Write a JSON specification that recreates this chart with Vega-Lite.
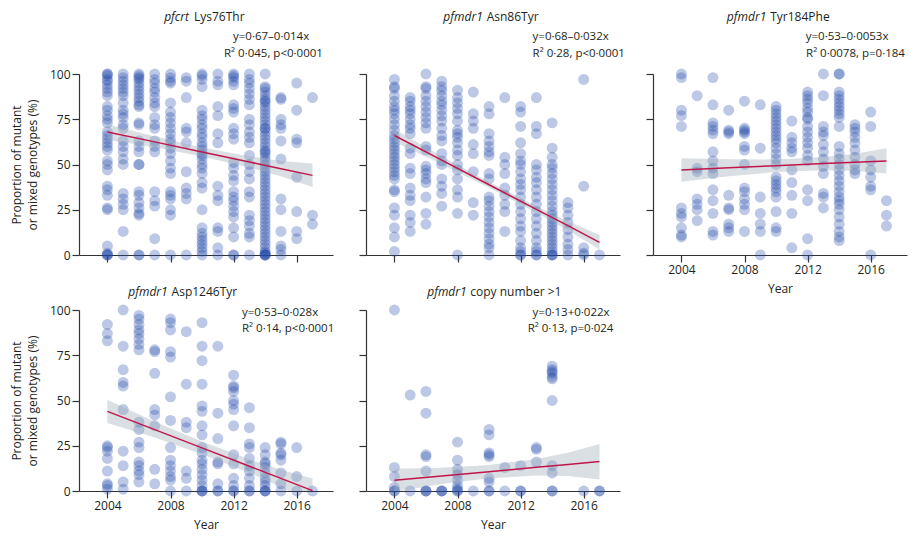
{
"$schema": "https://vega.github.io/schema/vega-lite/v6.json",
"padding": {"left": 10, "top": 10, "right": 5, "bottom": 5},
"background": "white",
"config": {
  "font": "Open Sans",
  "view": {"stroke": null},
  "axis": {"grid": false, "domainColor": "#333", "tickColor": "#333", "labelColor": "#231f20", "titleColor": "#231f20", "labelFont": "Open Sans", "titleFont": "Open Sans", "labelFontSize": 12, "titleFontSize": 12, "titleFontWeight": "normal", "tickSize": 7, "domainWidth": 1.2, "tickWidth": 1.2, "labelPadding": 2, "titleLineHeight": 16},
  "axisX": {"titlePadding": 8},
  "text": {"font": "Open Sans", "fontSize": 11.5, "color": "#231f20"}
},
"datasets": {
"fit": [
{"p":1,"x":2004,"f":68,"lo":63.7,"hi":72.2},{"p":1,"x":2007,"f":62.5,"lo":59.5,"hi":65.5},{"p":1,"x":2010,"f":56.9,"lo":54.4,"hi":59.4},{"p":1,"x":2013,"f":51.4,"lo":48.3,"hi":54.5},{"p":1,"x":2015,"f":47.7,"lo":43.5,"hi":51.9},{"p":1,"x":2017,"f":44,"lo":37.6,"hi":50.6},
{"p":2,"x":2004,"f":66,"lo":62.5,"hi":69.5},{"p":2,"x":2007,"f":52.4,"lo":50.2,"hi":54.6},{"p":2,"x":2010,"f":38.8,"lo":37.2,"hi":40.4},{"p":2,"x":2013,"f":25.2,"lo":23.4,"hi":27},{"p":2,"x":2015,"f":16.2,"lo":13.7,"hi":18.7},{"p":2,"x":2017,"f":7,"lo":3,"hi":11},
{"p":3,"x":2004,"f":47,"lo":40.5,"hi":53.5},{"p":3,"x":2007,"f":48.2,"lo":43.5,"hi":52.9},{"p":3,"x":2010,"f":49.3,"lo":45.8,"hi":52.8},{"p":3,"x":2013,"f":50.5,"lo":46.8,"hi":54.2},{"p":3,"x":2015,"f":51.2,"lo":46.5,"hi":55.9},{"p":3,"x":2017,"f":52,"lo":45,"hi":59},
{"p":4,"x":2004,"f":44,"lo":37.6,"hi":50.4},{"p":4,"x":2007,"f":33.9,"lo":29.5,"hi":38.3},{"p":4,"x":2010,"f":23.8,"lo":20.3,"hi":27.3},{"p":4,"x":2013,"f":13.7,"lo":9.9,"hi":17.5},{"p":4,"x":2015,"f":7,"lo":2.2,"hi":11.8},{"p":4,"x":2017,"f":0.2,"lo":-6.5,"hi":6.9},
{"p":5,"x":2004,"f":5.9,"lo":-0.5,"hi":12.3},{"p":5,"x":2007,"f":8.3,"lo":3.8,"hi":12.8},{"p":5,"x":2010,"f":10.7,"lo":7,"hi":14.4},{"p":5,"x":2013,"f":13.1,"lo":8.5,"hi":17.7},{"p":5,"x":2015,"f":14.7,"lo":8.3,"hi":21.1},{"p":5,"x":2017,"f":16.3,"lo":6.3,"hi":26}
],
"pts": [
{"p":1,"x":2004,"y":100},{"p":1,"x":2004,"y":100},{"p":1,"x":2004,"y":99},{"p":1,"x":2004,"y":97},{"p":1,"x":2004,"y":96},{"p":1,"x":2004,"y":94},{"p":1,"x":2004,"y":92},{"p":1,"x":2004,"y":90},{"p":1,"x":2004,"y":88},{"p":1,"x":2004,"y":82},{"p":1,"x":2004,"y":80},{"p":1,"x":2004,"y":77},{"p":1,"x":2004,"y":75},{"p":1,"x":2004,"y":73},{"p":1,"x":2004,"y":68},{"p":1,"x":2004,"y":66},{"p":1,"x":2004,"y":64},{"p":1,"x":2004,"y":62},{"p":1,"x":2004,"y":60},{"p":1,"x":2004,"y":58},{"p":1,"x":2004,"y":52},{"p":1,"x":2004,"y":50},{"p":1,"x":2004,"y":47},{"p":1,"x":2004,"y":38},{"p":1,"x":2004,"y":36},{"p":1,"x":2004,"y":33},{"p":1,"x":2004,"y":26},{"p":1,"x":2004,"y":25},{"p":1,"x":2004,"y":5},{"p":1,"x":2004,"y":1},{"p":1,"x":2004,"y":0},{"p":1,"x":2004,"y":0},{"p":1,"x":2004,"y":0},
{"p":1,"x":2005,"y":100},{"p":1,"x":2005,"y":98},{"p":1,"x":2005,"y":96},{"p":1,"x":2005,"y":94},{"p":1,"x":2005,"y":92},{"p":1,"x":2005,"y":90},{"p":1,"x":2005,"y":88},{"p":1,"x":2005,"y":84},{"p":1,"x":2005,"y":80},{"p":1,"x":2005,"y":78},{"p":1,"x":2005,"y":76},{"p":1,"x":2005,"y":72},{"p":1,"x":2005,"y":70},{"p":1,"x":2005,"y":63},{"p":1,"x":2005,"y":60},{"p":1,"x":2005,"y":57},{"p":1,"x":2005,"y":53},{"p":1,"x":2005,"y":50},{"p":1,"x":2005,"y":34},{"p":1,"x":2005,"y":31},{"p":1,"x":2005,"y":28},{"p":1,"x":2005,"y":25},{"p":1,"x":2005,"y":13},{"p":1,"x":2005,"y":0},
{"p":1,"x":2006,"y":100},{"p":1,"x":2006,"y":99},{"p":1,"x":2006,"y":98},{"p":1,"x":2006,"y":97},{"p":1,"x":2006,"y":95},{"p":1,"x":2006,"y":93},{"p":1,"x":2006,"y":91},{"p":1,"x":2006,"y":89},{"p":1,"x":2006,"y":87},{"p":1,"x":2006,"y":85},{"p":1,"x":2006,"y":83},{"p":1,"x":2006,"y":82},{"p":1,"x":2006,"y":73},{"p":1,"x":2006,"y":72},{"p":1,"x":2006,"y":63},{"p":1,"x":2006,"y":60},{"p":1,"x":2006,"y":57},{"p":1,"x":2006,"y":50},{"p":1,"x":2006,"y":50},{"p":1,"x":2006,"y":35},{"p":1,"x":2006,"y":33},{"p":1,"x":2006,"y":29},{"p":1,"x":2006,"y":26},{"p":1,"x":2006,"y":23},{"p":1,"x":2006,"y":22},{"p":1,"x":2006,"y":0},{"p":1,"x":2006,"y":0},
{"p":1,"x":2007,"y":100},{"p":1,"x":2007,"y":97},{"p":1,"x":2007,"y":95},{"p":1,"x":2007,"y":92},{"p":1,"x":2007,"y":90},{"p":1,"x":2007,"y":87},{"p":1,"x":2007,"y":84},{"p":1,"x":2007,"y":82},{"p":1,"x":2007,"y":76},{"p":1,"x":2007,"y":72},{"p":1,"x":2007,"y":70},{"p":1,"x":2007,"y":63},{"p":1,"x":2007,"y":60},{"p":1,"x":2007,"y":57},{"p":1,"x":2007,"y":35},{"p":1,"x":2007,"y":30},{"p":1,"x":2007,"y":27},{"p":1,"x":2007,"y":9},{"p":1,"x":2007,"y":0},
{"p":1,"x":2008,"y":100},{"p":1,"x":2008,"y":98},{"p":1,"x":2008,"y":96},{"p":1,"x":2008,"y":95},{"p":1,"x":2008,"y":84},{"p":1,"x":2008,"y":79},{"p":1,"x":2008,"y":76},{"p":1,"x":2008,"y":73},{"p":1,"x":2008,"y":70},{"p":1,"x":2008,"y":67},{"p":1,"x":2008,"y":64},{"p":1,"x":2008,"y":62},{"p":1,"x":2008,"y":59},{"p":1,"x":2008,"y":56},{"p":1,"x":2008,"y":52},{"p":1,"x":2008,"y":48},{"p":1,"x":2008,"y":45},{"p":1,"x":2008,"y":35},{"p":1,"x":2008,"y":33},{"p":1,"x":2008,"y":31},{"p":1,"x":2008,"y":25},{"p":1,"x":2008,"y":22},{"p":1,"x":2008,"y":0},
{"p":1,"x":2009,"y":98},{"p":1,"x":2009,"y":96},{"p":1,"x":2009,"y":87},{"p":1,"x":2009,"y":70},{"p":1,"x":2009,"y":68},{"p":1,"x":2009,"y":62},{"p":1,"x":2009,"y":46},{"p":1,"x":2009,"y":37},{"p":1,"x":2009,"y":34},{"p":1,"x":2009,"y":31},{"p":1,"x":2009,"y":0},
{"p":1,"x":2010,"y":100},{"p":1,"x":2010,"y":99},{"p":1,"x":2010,"y":97},{"p":1,"x":2010,"y":93},{"p":1,"x":2010,"y":80},{"p":1,"x":2010,"y":77},{"p":1,"x":2010,"y":75},{"p":1,"x":2010,"y":72},{"p":1,"x":2010,"y":70},{"p":1,"x":2010,"y":67},{"p":1,"x":2010,"y":65},{"p":1,"x":2010,"y":62},{"p":1,"x":2010,"y":60},{"p":1,"x":2010,"y":58},{"p":1,"x":2010,"y":56},{"p":1,"x":2010,"y":55},{"p":1,"x":2010,"y":53},{"p":1,"x":2010,"y":50},{"p":1,"x":2010,"y":48},{"p":1,"x":2010,"y":45},{"p":1,"x":2010,"y":40},{"p":1,"x":2010,"y":37},{"p":1,"x":2010,"y":25},{"p":1,"x":2010,"y":15},{"p":1,"x":2010,"y":12},{"p":1,"x":2010,"y":10},{"p":1,"x":2010,"y":8},{"p":1,"x":2010,"y":6},{"p":1,"x":2010,"y":4},{"p":1,"x":2010,"y":2},{"p":1,"x":2010,"y":0},
{"p":1,"x":2011,"y":100},{"p":1,"x":2011,"y":96},{"p":1,"x":2011,"y":94},{"p":1,"x":2011,"y":82},{"p":1,"x":2011,"y":77},{"p":1,"x":2011,"y":67},{"p":1,"x":2011,"y":62},{"p":1,"x":2011,"y":38},{"p":1,"x":2011,"y":33},{"p":1,"x":2011,"y":30},{"p":1,"x":2011,"y":15},{"p":1,"x":2011,"y":13},{"p":1,"x":2011,"y":4},{"p":1,"x":2011,"y":0},
{"p":1,"x":2012,"y":100},{"p":1,"x":2012,"y":99},{"p":1,"x":2012,"y":98},{"p":1,"x":2012,"y":96},{"p":1,"x":2012,"y":94},{"p":1,"x":2012,"y":83},{"p":1,"x":2012,"y":81},{"p":1,"x":2012,"y":79},{"p":1,"x":2012,"y":70},{"p":1,"x":2012,"y":67},{"p":1,"x":2012,"y":64},{"p":1,"x":2012,"y":51},{"p":1,"x":2012,"y":48},{"p":1,"x":2012,"y":44},{"p":1,"x":2012,"y":41},{"p":1,"x":2012,"y":35},{"p":1,"x":2012,"y":32},{"p":1,"x":2012,"y":30},{"p":1,"x":2012,"y":27},{"p":1,"x":2012,"y":24},{"p":1,"x":2012,"y":21},{"p":1,"x":2012,"y":15},{"p":1,"x":2012,"y":10},{"p":1,"x":2012,"y":0},{"p":1,"x":2012,"y":0},
{"p":1,"x":2013,"y":100},{"p":1,"x":2013,"y":97},{"p":1,"x":2013,"y":95},{"p":1,"x":2013,"y":92},{"p":1,"x":2013,"y":89},{"p":1,"x":2013,"y":86},{"p":1,"x":2013,"y":83},{"p":1,"x":2013,"y":75},{"p":1,"x":2013,"y":72},{"p":1,"x":2013,"y":68},{"p":1,"x":2013,"y":65},{"p":1,"x":2013,"y":62},{"p":1,"x":2013,"y":55},{"p":1,"x":2013,"y":50},{"p":1,"x":2013,"y":46},{"p":1,"x":2013,"y":42},{"p":1,"x":2013,"y":35},{"p":1,"x":2013,"y":32},{"p":1,"x":2013,"y":22},{"p":1,"x":2013,"y":19},{"p":1,"x":2013,"y":16},{"p":1,"x":2013,"y":12},{"p":1,"x":2013,"y":10},{"p":1,"x":2013,"y":0},
{"p":1,"x":2014,"y":100},{"p":1,"x":2014,"y":93},{"p":1,"x":2014,"y":92},{"p":1,"x":2014,"y":90},{"p":1,"x":2014,"y":88},{"p":1,"x":2014,"y":86},{"p":1,"x":2014,"y":85},{"p":1,"x":2014,"y":84},{"p":1,"x":2014,"y":82},{"p":1,"x":2014,"y":80},{"p":1,"x":2014,"y":78},{"p":1,"x":2014,"y":76},{"p":1,"x":2014,"y":74},{"p":1,"x":2014,"y":72},{"p":1,"x":2014,"y":70},{"p":1,"x":2014,"y":70},{"p":1,"x":2014,"y":68},{"p":1,"x":2014,"y":66},{"p":1,"x":2014,"y":64},{"p":1,"x":2014,"y":62},{"p":1,"x":2014,"y":60},{"p":1,"x":2014,"y":58},{"p":1,"x":2014,"y":57},{"p":1,"x":2014,"y":56},{"p":1,"x":2014,"y":54},{"p":1,"x":2014,"y":52},{"p":1,"x":2014,"y":50},{"p":1,"x":2014,"y":48},{"p":1,"x":2014,"y":46},{"p":1,"x":2014,"y":44},{"p":1,"x":2014,"y":42},{"p":1,"x":2014,"y":40},{"p":1,"x":2014,"y":38},{"p":1,"x":2014,"y":36},{"p":1,"x":2014,"y":34},{"p":1,"x":2014,"y":32},{"p":1,"x":2014,"y":30},{"p":1,"x":2014,"y":28},{"p":1,"x":2014,"y":26},{"p":1,"x":2014,"y":24},{"p":1,"x":2014,"y":22},{"p":1,"x":2014,"y":20},{"p":1,"x":2014,"y":18},{"p":1,"x":2014,"y":16},{"p":1,"x":2014,"y":14},{"p":1,"x":2014,"y":12},{"p":1,"x":2014,"y":10},{"p":1,"x":2014,"y":8},{"p":1,"x":2014,"y":6},{"p":1,"x":2014,"y":4},{"p":1,"x":2014,"y":2},{"p":1,"x":2014,"y":1},{"p":1,"x":2014,"y":0},{"p":1,"x":2014,"y":0},{"p":1,"x":2014,"y":0},{"p":1,"x":2014,"y":0},
{"p":1,"x":2015,"y":87},{"p":1,"x":2015,"y":86},{"p":1,"x":2015,"y":75},{"p":1,"x":2015,"y":72},{"p":1,"x":2015,"y":70},{"p":1,"x":2015,"y":63},{"p":1,"x":2015,"y":53},{"p":1,"x":2015,"y":31},{"p":1,"x":2015,"y":25},{"p":1,"x":2015,"y":13},{"p":1,"x":2015,"y":5},{"p":1,"x":2015,"y":3},{"p":1,"x":2015,"y":0},
{"p":1,"x":2016,"y":95},{"p":1,"x":2016,"y":80},{"p":1,"x":2016,"y":64},{"p":1,"x":2016,"y":62},{"p":1,"x":2016,"y":43},{"p":1,"x":2016,"y":24},{"p":1,"x":2016,"y":13},{"p":1,"x":2016,"y":9},
{"p":1,"x":2017,"y":87},{"p":1,"x":2017,"y":22},{"p":1,"x":2017,"y":17},
{"p":2,"x":2004,"y":97},{"p":2,"x":2004,"y":93},{"p":2,"x":2004,"y":92},{"p":2,"x":2004,"y":88},{"p":2,"x":2004,"y":85},{"p":2,"x":2004,"y":82},{"p":2,"x":2004,"y":80},{"p":2,"x":2004,"y":78},{"p":2,"x":2004,"y":75},{"p":2,"x":2004,"y":72},{"p":2,"x":2004,"y":69},{"p":2,"x":2004,"y":66},{"p":2,"x":2004,"y":64},{"p":2,"x":2004,"y":62},{"p":2,"x":2004,"y":60},{"p":2,"x":2004,"y":58},{"p":2,"x":2004,"y":56},{"p":2,"x":2004,"y":54},{"p":2,"x":2004,"y":52},{"p":2,"x":2004,"y":50},{"p":2,"x":2004,"y":48},{"p":2,"x":2004,"y":46},{"p":2,"x":2004,"y":44},{"p":2,"x":2004,"y":42},{"p":2,"x":2004,"y":36},{"p":2,"x":2004,"y":35},{"p":2,"x":2004,"y":26},{"p":2,"x":2004,"y":22},{"p":2,"x":2004,"y":15},{"p":2,"x":2004,"y":10},{"p":2,"x":2004,"y":2},
{"p":2,"x":2005,"y":87},{"p":2,"x":2005,"y":85},{"p":2,"x":2005,"y":82},{"p":2,"x":2005,"y":80},{"p":2,"x":2005,"y":78},{"p":2,"x":2005,"y":75},{"p":2,"x":2005,"y":72},{"p":2,"x":2005,"y":70},{"p":2,"x":2005,"y":67},{"p":2,"x":2005,"y":59},{"p":2,"x":2005,"y":56},{"p":2,"x":2005,"y":48},{"p":2,"x":2005,"y":45},{"p":2,"x":2005,"y":37},{"p":2,"x":2005,"y":33},{"p":2,"x":2005,"y":30},{"p":2,"x":2005,"y":22},{"p":2,"x":2005,"y":18},{"p":2,"x":2005,"y":13},
{"p":2,"x":2006,"y":100},{"p":2,"x":2006,"y":93},{"p":2,"x":2006,"y":92},{"p":2,"x":2006,"y":88},{"p":2,"x":2006,"y":85},{"p":2,"x":2006,"y":82},{"p":2,"x":2006,"y":79},{"p":2,"x":2006,"y":76},{"p":2,"x":2006,"y":73},{"p":2,"x":2006,"y":70},{"p":2,"x":2006,"y":60},{"p":2,"x":2006,"y":58},{"p":2,"x":2006,"y":49},{"p":2,"x":2006,"y":47},{"p":2,"x":2006,"y":45},{"p":2,"x":2006,"y":42},{"p":2,"x":2006,"y":40},{"p":2,"x":2006,"y":32},{"p":2,"x":2006,"y":23},{"p":2,"x":2006,"y":17},
{"p":2,"x":2007,"y":96},{"p":2,"x":2007,"y":93},{"p":2,"x":2007,"y":91},{"p":2,"x":2007,"y":88},{"p":2,"x":2007,"y":85},{"p":2,"x":2007,"y":83},{"p":2,"x":2007,"y":80},{"p":2,"x":2007,"y":77},{"p":2,"x":2007,"y":74},{"p":2,"x":2007,"y":70},{"p":2,"x":2007,"y":66},{"p":2,"x":2007,"y":63},{"p":2,"x":2007,"y":56},{"p":2,"x":2007,"y":52},{"p":2,"x":2007,"y":50},{"p":2,"x":2007,"y":42},{"p":2,"x":2007,"y":38},{"p":2,"x":2007,"y":34},{"p":2,"x":2007,"y":27},
{"p":2,"x":2008,"y":91},{"p":2,"x":2008,"y":87},{"p":2,"x":2008,"y":84},{"p":2,"x":2008,"y":81},{"p":2,"x":2008,"y":78},{"p":2,"x":2008,"y":74},{"p":2,"x":2008,"y":69},{"p":2,"x":2008,"y":67},{"p":2,"x":2008,"y":65},{"p":2,"x":2008,"y":62},{"p":2,"x":2008,"y":58},{"p":2,"x":2008,"y":55},{"p":2,"x":2008,"y":50},{"p":2,"x":2008,"y":47},{"p":2,"x":2008,"y":42},{"p":2,"x":2008,"y":36},{"p":2,"x":2008,"y":32},{"p":2,"x":2008,"y":23},{"p":2,"x":2008,"y":0},
{"p":2,"x":2009,"y":90},{"p":2,"x":2009,"y":78},{"p":2,"x":2009,"y":74},{"p":2,"x":2009,"y":70},{"p":2,"x":2009,"y":61},{"p":2,"x":2009,"y":56},{"p":2,"x":2009,"y":46},{"p":2,"x":2009,"y":29},{"p":2,"x":2009,"y":22},
{"p":2,"x":2010,"y":82},{"p":2,"x":2010,"y":78},{"p":2,"x":2010,"y":67},{"p":2,"x":2010,"y":63},{"p":2,"x":2010,"y":60},{"p":2,"x":2010,"y":57},{"p":2,"x":2010,"y":55},{"p":2,"x":2010,"y":45},{"p":2,"x":2010,"y":42},{"p":2,"x":2010,"y":32},{"p":2,"x":2010,"y":30},{"p":2,"x":2010,"y":27},{"p":2,"x":2010,"y":24},{"p":2,"x":2010,"y":21},{"p":2,"x":2010,"y":18},{"p":2,"x":2010,"y":15},{"p":2,"x":2010,"y":12},{"p":2,"x":2010,"y":9},{"p":2,"x":2010,"y":6},{"p":2,"x":2010,"y":4},{"p":2,"x":2010,"y":0},
{"p":2,"x":2011,"y":87},{"p":2,"x":2011,"y":54},{"p":2,"x":2011,"y":50},{"p":2,"x":2011,"y":45},{"p":2,"x":2011,"y":37},{"p":2,"x":2011,"y":33},{"p":2,"x":2011,"y":28},{"p":2,"x":2011,"y":24},{"p":2,"x":2011,"y":13},
{"p":2,"x":2012,"y":82},{"p":2,"x":2012,"y":79},{"p":2,"x":2012,"y":71},{"p":2,"x":2012,"y":62},{"p":2,"x":2012,"y":56},{"p":2,"x":2012,"y":52},{"p":2,"x":2012,"y":50},{"p":2,"x":2012,"y":46},{"p":2,"x":2012,"y":42},{"p":2,"x":2012,"y":39},{"p":2,"x":2012,"y":36},{"p":2,"x":2012,"y":32},{"p":2,"x":2012,"y":28},{"p":2,"x":2012,"y":24},{"p":2,"x":2012,"y":20},{"p":2,"x":2012,"y":16},{"p":2,"x":2012,"y":13},{"p":2,"x":2012,"y":8},{"p":2,"x":2012,"y":4},{"p":2,"x":2012,"y":2},{"p":2,"x":2012,"y":0},{"p":2,"x":2012,"y":0},
{"p":2,"x":2013,"y":87},{"p":2,"x":2013,"y":71},{"p":2,"x":2013,"y":67},{"p":2,"x":2013,"y":50},{"p":2,"x":2013,"y":47},{"p":2,"x":2013,"y":43},{"p":2,"x":2013,"y":40},{"p":2,"x":2013,"y":36},{"p":2,"x":2013,"y":32},{"p":2,"x":2013,"y":28},{"p":2,"x":2013,"y":24},{"p":2,"x":2013,"y":20},{"p":2,"x":2013,"y":16},{"p":2,"x":2013,"y":12},{"p":2,"x":2013,"y":8},{"p":2,"x":2013,"y":4},{"p":2,"x":2013,"y":2},{"p":2,"x":2013,"y":0},{"p":2,"x":2013,"y":0},
{"p":2,"x":2014,"y":73},{"p":2,"x":2014,"y":59},{"p":2,"x":2014,"y":54},{"p":2,"x":2014,"y":50},{"p":2,"x":2014,"y":48},{"p":2,"x":2014,"y":45},{"p":2,"x":2014,"y":42},{"p":2,"x":2014,"y":39},{"p":2,"x":2014,"y":36},{"p":2,"x":2014,"y":33},{"p":2,"x":2014,"y":30},{"p":2,"x":2014,"y":27},{"p":2,"x":2014,"y":24},{"p":2,"x":2014,"y":22},{"p":2,"x":2014,"y":20},{"p":2,"x":2014,"y":18},{"p":2,"x":2014,"y":16},{"p":2,"x":2014,"y":14},{"p":2,"x":2014,"y":12},{"p":2,"x":2014,"y":10},{"p":2,"x":2014,"y":8},{"p":2,"x":2014,"y":6},{"p":2,"x":2014,"y":4},{"p":2,"x":2014,"y":2},{"p":2,"x":2014,"y":0},{"p":2,"x":2014,"y":0},{"p":2,"x":2014,"y":0},
{"p":2,"x":2015,"y":29},{"p":2,"x":2015,"y":26},{"p":2,"x":2015,"y":22},{"p":2,"x":2015,"y":18},{"p":2,"x":2015,"y":14},{"p":2,"x":2015,"y":10},{"p":2,"x":2015,"y":6},{"p":2,"x":2015,"y":3},{"p":2,"x":2015,"y":0},
{"p":2,"x":2016,"y":97},{"p":2,"x":2016,"y":38},{"p":2,"x":2016,"y":4},{"p":2,"x":2016,"y":1},{"p":2,"x":2016,"y":0},
{"p":2,"x":2017,"y":0},
{"p":3,"x":2004,"y":100},{"p":3,"x":2004,"y":98},{"p":3,"x":2004,"y":80},{"p":3,"x":2004,"y":77},{"p":3,"x":2004,"y":71},{"p":3,"x":2004,"y":26},{"p":3,"x":2004,"y":23},{"p":3,"x":2004,"y":21},{"p":3,"x":2004,"y":15},{"p":3,"x":2004,"y":11},{"p":3,"x":2004,"y":10},
{"p":3,"x":2005,"y":88},{"p":3,"x":2005,"y":48},{"p":3,"x":2005,"y":46},{"p":3,"x":2005,"y":31},{"p":3,"x":2005,"y":28},{"p":3,"x":2005,"y":25},{"p":3,"x":2005,"y":19},
{"p":3,"x":2006,"y":98},{"p":3,"x":2006,"y":83},{"p":3,"x":2006,"y":73},{"p":3,"x":2006,"y":71},{"p":3,"x":2006,"y":69},{"p":3,"x":2006,"y":67},{"p":3,"x":2006,"y":57},{"p":3,"x":2006,"y":52},{"p":3,"x":2006,"y":48},{"p":3,"x":2006,"y":45},{"p":3,"x":2006,"y":36},{"p":3,"x":2006,"y":30},{"p":3,"x":2006,"y":23},{"p":3,"x":2006,"y":13},{"p":3,"x":2006,"y":11},
{"p":3,"x":2007,"y":80},{"p":3,"x":2007,"y":69},{"p":3,"x":2007,"y":68},{"p":3,"x":2007,"y":67},{"p":3,"x":2007,"y":33},{"p":3,"x":2007,"y":26},{"p":3,"x":2007,"y":25},{"p":3,"x":2007,"y":17},{"p":3,"x":2007,"y":15},{"p":3,"x":2007,"y":13},
{"p":3,"x":2008,"y":85},{"p":3,"x":2008,"y":70},{"p":3,"x":2008,"y":69},{"p":3,"x":2008,"y":68},{"p":3,"x":2008,"y":67},{"p":3,"x":2008,"y":60},{"p":3,"x":2008,"y":58},{"p":3,"x":2008,"y":50},{"p":3,"x":2008,"y":37},{"p":3,"x":2008,"y":35},{"p":3,"x":2008,"y":31},{"p":3,"x":2008,"y":28},{"p":3,"x":2008,"y":25},{"p":3,"x":2008,"y":13},
{"p":3,"x":2009,"y":83},{"p":3,"x":2009,"y":59},{"p":3,"x":2009,"y":32},{"p":3,"x":2009,"y":23},{"p":3,"x":2009,"y":17},{"p":3,"x":2009,"y":13},{"p":3,"x":2009,"y":0},
{"p":3,"x":2010,"y":82},{"p":3,"x":2010,"y":80},{"p":3,"x":2010,"y":78},{"p":3,"x":2010,"y":76},{"p":3,"x":2010,"y":74},{"p":3,"x":2010,"y":72},{"p":3,"x":2010,"y":70},{"p":3,"x":2010,"y":68},{"p":3,"x":2010,"y":66},{"p":3,"x":2010,"y":64},{"p":3,"x":2010,"y":62},{"p":3,"x":2010,"y":59},{"p":3,"x":2010,"y":56},{"p":3,"x":2010,"y":53},{"p":3,"x":2010,"y":50},{"p":3,"x":2010,"y":43},{"p":3,"x":2010,"y":41},{"p":3,"x":2010,"y":39},{"p":3,"x":2010,"y":37},{"p":3,"x":2010,"y":35},{"p":3,"x":2010,"y":32},{"p":3,"x":2010,"y":24},{"p":3,"x":2010,"y":15},{"p":3,"x":2010,"y":13},
{"p":3,"x":2011,"y":74},{"p":3,"x":2011,"y":65},{"p":3,"x":2011,"y":62},{"p":3,"x":2011,"y":59},{"p":3,"x":2011,"y":57},{"p":3,"x":2011,"y":47},{"p":3,"x":2011,"y":40},{"p":3,"x":2011,"y":33},{"p":3,"x":2011,"y":23},{"p":3,"x":2011,"y":4},
{"p":3,"x":2012,"y":90},{"p":3,"x":2012,"y":88},{"p":3,"x":2012,"y":86},{"p":3,"x":2012,"y":84},{"p":3,"x":2012,"y":81},{"p":3,"x":2012,"y":79},{"p":3,"x":2012,"y":76},{"p":3,"x":2012,"y":75},{"p":3,"x":2012,"y":71},{"p":3,"x":2012,"y":68},{"p":3,"x":2012,"y":65},{"p":3,"x":2012,"y":62},{"p":3,"x":2012,"y":59},{"p":3,"x":2012,"y":55},{"p":3,"x":2012,"y":52},{"p":3,"x":2012,"y":36},{"p":3,"x":2012,"y":30},{"p":3,"x":2012,"y":9},{"p":3,"x":2012,"y":0},
{"p":3,"x":2013,"y":100},{"p":3,"x":2013,"y":88},{"p":3,"x":2013,"y":71},{"p":3,"x":2013,"y":68},{"p":3,"x":2013,"y":66},{"p":3,"x":2013,"y":61},{"p":3,"x":2013,"y":57},{"p":3,"x":2013,"y":53},{"p":3,"x":2013,"y":49},{"p":3,"x":2013,"y":45},{"p":3,"x":2013,"y":34},{"p":3,"x":2013,"y":32},{"p":3,"x":2013,"y":26},
{"p":3,"x":2014,"y":100},{"p":3,"x":2014,"y":100},{"p":3,"x":2014,"y":90},{"p":3,"x":2014,"y":88},{"p":3,"x":2014,"y":86},{"p":3,"x":2014,"y":84},{"p":3,"x":2014,"y":82},{"p":3,"x":2014,"y":80},{"p":3,"x":2014,"y":78},{"p":3,"x":2014,"y":76},{"p":3,"x":2014,"y":71},{"p":3,"x":2014,"y":60},{"p":3,"x":2014,"y":56},{"p":3,"x":2014,"y":53},{"p":3,"x":2014,"y":50},{"p":3,"x":2014,"y":47},{"p":3,"x":2014,"y":44},{"p":3,"x":2014,"y":41},{"p":3,"x":2014,"y":38},{"p":3,"x":2014,"y":35},{"p":3,"x":2014,"y":32},{"p":3,"x":2014,"y":30},{"p":3,"x":2014,"y":28},{"p":3,"x":2014,"y":25},{"p":3,"x":2014,"y":21},{"p":3,"x":2014,"y":17},{"p":3,"x":2014,"y":13},{"p":3,"x":2014,"y":10},{"p":3,"x":2014,"y":8},
{"p":3,"x":2015,"y":72},{"p":3,"x":2015,"y":70},{"p":3,"x":2015,"y":68},{"p":3,"x":2015,"y":65},{"p":3,"x":2015,"y":62},{"p":3,"x":2015,"y":58},{"p":3,"x":2015,"y":54},{"p":3,"x":2015,"y":50},{"p":3,"x":2015,"y":47},{"p":3,"x":2015,"y":45},
{"p":3,"x":2016,"y":79},{"p":3,"x":2016,"y":71},{"p":3,"x":2016,"y":52},{"p":3,"x":2016,"y":47},{"p":3,"x":2016,"y":43},{"p":3,"x":2016,"y":38},{"p":3,"x":2016,"y":36},{"p":3,"x":2016,"y":0},
{"p":3,"x":2017,"y":30},{"p":3,"x":2017,"y":22},{"p":3,"x":2017,"y":16},
{"p":4,"x":2004,"y":92},{"p":4,"x":2004,"y":87},{"p":4,"x":2004,"y":83},{"p":4,"x":2004,"y":25},{"p":4,"x":2004,"y":24},{"p":4,"x":2004,"y":22},{"p":4,"x":2004,"y":18},{"p":4,"x":2004,"y":11},{"p":4,"x":2004,"y":4},{"p":4,"x":2004,"y":3},{"p":4,"x":2004,"y":1},
{"p":4,"x":2005,"y":100},{"p":4,"x":2005,"y":80},{"p":4,"x":2005,"y":67},{"p":4,"x":2005,"y":60},{"p":4,"x":2005,"y":58},{"p":4,"x":2005,"y":45},{"p":4,"x":2005,"y":22},{"p":4,"x":2005,"y":14},{"p":4,"x":2005,"y":5},{"p":4,"x":2005,"y":1},
{"p":4,"x":2006,"y":97},{"p":4,"x":2006,"y":95},{"p":4,"x":2006,"y":92},{"p":4,"x":2006,"y":89},{"p":4,"x":2006,"y":87},{"p":4,"x":2006,"y":84},{"p":4,"x":2006,"y":81},{"p":4,"x":2006,"y":78},{"p":4,"x":2006,"y":38},{"p":4,"x":2006,"y":34},{"p":4,"x":2006,"y":27},{"p":4,"x":2006,"y":24},{"p":4,"x":2006,"y":16},{"p":4,"x":2006,"y":14},{"p":4,"x":2006,"y":11},{"p":4,"x":2006,"y":9},{"p":4,"x":2006,"y":5},
{"p":4,"x":2007,"y":78},{"p":4,"x":2007,"y":77},{"p":4,"x":2007,"y":65},{"p":4,"x":2007,"y":45},{"p":4,"x":2007,"y":42},{"p":4,"x":2007,"y":36},{"p":4,"x":2007,"y":12},{"p":4,"x":2007,"y":4},
{"p":4,"x":2008,"y":95},{"p":4,"x":2008,"y":93},{"p":4,"x":2008,"y":89},{"p":4,"x":2008,"y":77},{"p":4,"x":2008,"y":74},{"p":4,"x":2008,"y":52},{"p":4,"x":2008,"y":39},{"p":4,"x":2008,"y":24},{"p":4,"x":2008,"y":17},{"p":4,"x":2008,"y":14},{"p":4,"x":2008,"y":11},{"p":4,"x":2008,"y":8},{"p":4,"x":2008,"y":6},{"p":4,"x":2008,"y":0},
{"p":4,"x":2009,"y":88},{"p":4,"x":2009,"y":59},{"p":4,"x":2009,"y":38},{"p":4,"x":2009,"y":35},{"p":4,"x":2009,"y":11},{"p":4,"x":2009,"y":7},{"p":4,"x":2009,"y":0},
{"p":4,"x":2010,"y":93},{"p":4,"x":2010,"y":80},{"p":4,"x":2010,"y":72},{"p":4,"x":2010,"y":59},{"p":4,"x":2010,"y":47},{"p":4,"x":2010,"y":44},{"p":4,"x":2010,"y":36},{"p":4,"x":2010,"y":31},{"p":4,"x":2010,"y":24},{"p":4,"x":2010,"y":21},{"p":4,"x":2010,"y":17},{"p":4,"x":2010,"y":15},{"p":4,"x":2010,"y":12},{"p":4,"x":2010,"y":9},{"p":4,"x":2010,"y":6},{"p":4,"x":2010,"y":3},{"p":4,"x":2010,"y":0},{"p":4,"x":2010,"y":0},{"p":4,"x":2010,"y":0},
{"p":4,"x":2011,"y":80},{"p":4,"x":2011,"y":43},{"p":4,"x":2011,"y":29},{"p":4,"x":2011,"y":16},{"p":4,"x":2011,"y":15},{"p":4,"x":2011,"y":4},{"p":4,"x":2011,"y":0},{"p":4,"x":2011,"y":0},
{"p":4,"x":2012,"y":64},{"p":4,"x":2012,"y":58},{"p":4,"x":2012,"y":57},{"p":4,"x":2012,"y":55},{"p":4,"x":2012,"y":50},{"p":4,"x":2012,"y":48},{"p":4,"x":2012,"y":45},{"p":4,"x":2012,"y":36},{"p":4,"x":2012,"y":20},{"p":4,"x":2012,"y":15},{"p":4,"x":2012,"y":7},{"p":4,"x":2012,"y":3},{"p":4,"x":2012,"y":0},{"p":4,"x":2012,"y":0},
{"p":4,"x":2013,"y":46},{"p":4,"x":2013,"y":35},{"p":4,"x":2013,"y":26},{"p":4,"x":2013,"y":24},{"p":4,"x":2013,"y":18},{"p":4,"x":2013,"y":14},{"p":4,"x":2013,"y":11},{"p":4,"x":2013,"y":7},{"p":4,"x":2013,"y":3},{"p":4,"x":2013,"y":0},{"p":4,"x":2013,"y":0},
{"p":4,"x":2014,"y":24},{"p":4,"x":2014,"y":20},{"p":4,"x":2014,"y":16},{"p":4,"x":2014,"y":15},{"p":4,"x":2014,"y":13},{"p":4,"x":2014,"y":10},{"p":4,"x":2014,"y":7},{"p":4,"x":2014,"y":5},{"p":4,"x":2014,"y":3},{"p":4,"x":2014,"y":0},{"p":4,"x":2014,"y":0},{"p":4,"x":2014,"y":0},
{"p":4,"x":2015,"y":27},{"p":4,"x":2015,"y":26},{"p":4,"x":2015,"y":21},{"p":4,"x":2015,"y":20},{"p":4,"x":2015,"y":17},{"p":4,"x":2015,"y":10},{"p":4,"x":2015,"y":4},{"p":4,"x":2015,"y":0},
{"p":4,"x":2016,"y":24},{"p":4,"x":2016,"y":8},{"p":4,"x":2016,"y":0},
{"p":4,"x":2017,"y":0},
{"p":5,"x":2004,"y":100},{"p":5,"x":2004,"y":13},{"p":5,"x":2004,"y":8},{"p":5,"x":2004,"y":2},{"p":5,"x":2004,"y":0},{"p":5,"x":2004,"y":0},
{"p":5,"x":2005,"y":53},{"p":5,"x":2005,"y":0},
{"p":5,"x":2006,"y":55},{"p":5,"x":2006,"y":43},{"p":5,"x":2006,"y":20},{"p":5,"x":2006,"y":19},{"p":5,"x":2006,"y":11},{"p":5,"x":2006,"y":0},{"p":5,"x":2006,"y":0},{"p":5,"x":2006,"y":0},
{"p":5,"x":2007,"y":0},{"p":5,"x":2007,"y":0},{"p":5,"x":2007,"y":0},
{"p":5,"x":2008,"y":27},{"p":5,"x":2008,"y":17},{"p":5,"x":2008,"y":12},{"p":5,"x":2008,"y":9},{"p":5,"x":2008,"y":6},{"p":5,"x":2008,"y":3},{"p":5,"x":2008,"y":1},{"p":5,"x":2008,"y":0},{"p":5,"x":2008,"y":0},
{"p":5,"x":2009,"y":0},
{"p":5,"x":2010,"y":34},{"p":5,"x":2010,"y":31},{"p":5,"x":2010,"y":21},{"p":5,"x":2010,"y":20},{"p":5,"x":2010,"y":19},{"p":5,"x":2010,"y":7},{"p":5,"x":2010,"y":5},{"p":5,"x":2010,"y":0},{"p":5,"x":2010,"y":0},
{"p":5,"x":2011,"y":13},{"p":5,"x":2011,"y":0},
{"p":5,"x":2012,"y":14},{"p":5,"x":2012,"y":0},{"p":5,"x":2012,"y":0},
{"p":5,"x":2013,"y":24},{"p":5,"x":2013,"y":23},{"p":5,"x":2013,"y":16},
{"p":5,"x":2014,"y":69},{"p":5,"x":2014,"y":67},{"p":5,"x":2014,"y":66},{"p":5,"x":2014,"y":65},{"p":5,"x":2014,"y":63},{"p":5,"x":2014,"y":62},{"p":5,"x":2014,"y":50},{"p":5,"x":2014,"y":14},{"p":5,"x":2014,"y":10},{"p":5,"x":2014,"y":0},{"p":5,"x":2014,"y":0},
{"p":5,"x":2016,"y":0},
{"p":5,"x":2017,"y":0},{"p":5,"x":2017,"y":0}
]
},
"columns": 3,
"spacing": {"row": 55, "column": 33},
"bounds": "flush",
"concat": [
{
 "width": 254, "height": 181,
 "layer": [
  {"data": {"name": "pts"}, "transform": [{"filter": "datum.p==1"}], "mark": {"type": "circle", "size": 120, "opacity": 0.3, "color": "#2048a8"},
   "encoding": {"x": {"field": "x", "type": "quantitative", "scale": {"domain": [2002.2, 2018.3], "nice": false, "zero": false}, "axis": {"values": [2004, 2008, 2012, 2016], "format": "d", "labels": false, "title": null}},
                "y": {"field": "y", "type": "quantitative", "scale": {"domain": [0, 100], "nice": false}, "axis": {"values": [0, 25, 50, 75, 100], "title": ["Proportion of mutant", "or mixed genotypes (%)"], "titlePadding": 10}}}},
  {"data": {"name": "fit"}, "transform": [{"filter": "datum.p==1"}], "mark": {"type": "area", "color": "#9fb0b8", "opacity": 0.4, "clip": true}, "encoding": {"x": {"field": "x", "type": "quantitative"}, "y": {"field": "lo", "type": "quantitative"}, "y2": {"field": "hi"}}},
  {"data": {"name": "fit"}, "transform": [{"filter": "datum.p==1"}], "mark": {"type": "line", "color": "#c0174b", "strokeWidth": 1.5}, "encoding": {"x": {"field": "x", "type": "quantitative"}, "y": {"field": "f", "type": "quantitative"}}},
  {"data": {"values": [{}]}, "mark": {"type": "text", "fontStyle": "italic", "align": "right", "baseline": "middle", "fontSize": 12}, "encoding": {"x": {"datum": 2009.17}, "y": {"datum": 131.5}, "text": {"value": "pfcrt"}}},
  {"data": {"values": [{}]}, "mark": {"type": "text", "align": "left", "baseline": "middle", "fontSize": 12}, "encoding": {"x": {"datum": 2009.49}, "y": {"datum": 131.5}, "text": {"value": "Lys76Thr"}}},
  {"data": {"values": [{}]}, "mark": {"type": "text", "align": "left", "baseline": "middle"}, "encoding": {"x": {"datum": 2011.96}, "y": {"datum": 120.2}, "text": {"value": "y=0·67–0·014x"}}},
  {"data": {"values": [{}]}, "mark": {"type": "text", "align": "left", "baseline": "middle"}, "encoding": {"x": {"datum": 2011.39}, "y": {"datum": 111.2}, "text": {"value": "R² 0·045, p<0·0001"}}}
 ]
},
{
 "width": 254, "height": 181,
 "layer": [
  {"data": {"name": "pts"}, "transform": [{"filter": "datum.p==2"}], "mark": {"type": "circle", "size": 120, "opacity": 0.3, "color": "#2048a8"},
   "encoding": {"x": {"field": "x", "type": "quantitative", "scale": {"domain": [2002.2, 2018.3], "nice": false, "zero": false}, "axis": {"values": [2004, 2008, 2012, 2016], "format": "d", "labels": false, "title": null}},
                "y": {"field": "y", "type": "quantitative", "scale": {"domain": [0, 100], "nice": false}, "axis": {"values": [0, 25, 50, 75, 100], "labels": false, "title": null}}}},
  {"data": {"name": "fit"}, "transform": [{"filter": "datum.p==2"}], "mark": {"type": "area", "color": "#9fb0b8", "opacity": 0.4, "clip": true}, "encoding": {"x": {"field": "x", "type": "quantitative"}, "y": {"field": "lo", "type": "quantitative"}, "y2": {"field": "hi"}}},
  {"data": {"name": "fit"}, "transform": [{"filter": "datum.p==2"}], "mark": {"type": "line", "color": "#c0174b", "strokeWidth": 1.5}, "encoding": {"x": {"field": "x", "type": "quantitative"}, "y": {"field": "f", "type": "quantitative"}}},
  {"data": {"values": [{}]}, "mark": {"type": "text", "fontStyle": "italic", "align": "right", "baseline": "middle", "fontSize": 12}, "encoding": {"x": {"datum": 2009.6}, "y": {"datum": 131.5}, "text": {"value": "pfmdr1"}}},
  {"data": {"values": [{}]}, "mark": {"type": "text", "align": "left", "baseline": "middle", "fontSize": 12}, "encoding": {"x": {"datum": 2009.85}, "y": {"datum": 131.5}, "text": {"value": "Asn86Tyr"}}},
  {"data": {"values": [{}]}, "mark": {"type": "text", "align": "left", "baseline": "middle"}, "encoding": {"x": {"datum": 2012.76}, "y": {"datum": 120.2}, "text": {"value": "y=0·68–0·032x"}}},
  {"data": {"values": [{}]}, "mark": {"type": "text", "align": "left", "baseline": "middle"}, "encoding": {"x": {"datum": 2012.76}, "y": {"datum": 111.2}, "text": {"value": "R² 0·28, p<0·0001"}}}
 ]
},
{
 "width": 254, "height": 181,
 "layer": [
  {"data": {"name": "pts"}, "transform": [{"filter": "datum.p==3"}], "mark": {"type": "circle", "size": 120, "opacity": 0.3, "color": "#2048a8"},
   "encoding": {"x": {"field": "x", "type": "quantitative", "scale": {"domain": [2002.2, 2018.3], "nice": false, "zero": false}, "axis": {"values": [2004, 2008, 2012, 2016], "format": "d", "title": "Year"}},
                "y": {"field": "y", "type": "quantitative", "scale": {"domain": [0, 100], "nice": false}, "axis": {"values": [0, 25, 50, 75, 100], "labels": false, "title": null}}}},
  {"data": {"name": "fit"}, "transform": [{"filter": "datum.p==3"}], "mark": {"type": "area", "color": "#9fb0b8", "opacity": 0.4, "clip": true}, "encoding": {"x": {"field": "x", "type": "quantitative"}, "y": {"field": "lo", "type": "quantitative"}, "y2": {"field": "hi"}}},
  {"data": {"name": "fit"}, "transform": [{"filter": "datum.p==3"}], "mark": {"type": "line", "color": "#c0174b", "strokeWidth": 1.5}, "encoding": {"x": {"field": "x", "type": "quantitative"}, "y": {"field": "f", "type": "quantitative"}}},
  {"data": {"values": [{}]}, "mark": {"type": "text", "fontStyle": "italic", "align": "right", "baseline": "middle", "fontSize": 12}, "encoding": {"x": {"datum": 2009.38}, "y": {"datum": 131.5}, "text": {"value": "pfmdr1"}}},
  {"data": {"values": [{}]}, "mark": {"type": "text", "align": "left", "baseline": "middle", "fontSize": 12}, "encoding": {"x": {"datum": 2009.63}, "y": {"datum": 131.5}, "text": {"value": "Tyr184Phe"}}},
  {"data": {"values": [{}]}, "mark": {"type": "text", "align": "left", "baseline": "middle"}, "encoding": {"x": {"datum": 2011.88}, "y": {"datum": 120.2}, "text": {"value": "y=0·53–0·0053x"}}},
  {"data": {"values": [{}]}, "mark": {"type": "text", "align": "left", "baseline": "middle"}, "encoding": {"x": {"datum": 2011.9}, "y": {"datum": 111.2}, "text": {"value": "R² 0·0078, p=0·184"}}}
 ]
},
{
 "width": 254, "height": 181,
 "layer": [
  {"data": {"name": "pts"}, "transform": [{"filter": "datum.p==4"}], "mark": {"type": "circle", "size": 120, "opacity": 0.3, "color": "#2048a8"},
   "encoding": {"x": {"field": "x", "type": "quantitative", "scale": {"domain": [2002.2, 2018.3], "nice": false, "zero": false}, "axis": {"values": [2004, 2008, 2012, 2016], "format": "d", "title": "Year"}},
                "y": {"field": "y", "type": "quantitative", "scale": {"domain": [0, 100], "nice": false}, "axis": {"values": [0, 25, 50, 75, 100], "title": ["Proportion of mutant", "or mixed genotypes (%)"], "titlePadding": 10}}}},
  {"data": {"name": "fit"}, "transform": [{"filter": "datum.p==4"}], "mark": {"type": "area", "color": "#9fb0b8", "opacity": 0.4, "clip": true}, "encoding": {"x": {"field": "x", "type": "quantitative"}, "y": {"field": "lo", "type": "quantitative"}, "y2": {"field": "hi"}}},
  {"data": {"name": "fit"}, "transform": [{"filter": "datum.p==4"}], "mark": {"type": "line", "color": "#c0174b", "strokeWidth": 1.5}, "encoding": {"x": {"field": "x", "type": "quantitative"}, "y": {"field": "f", "type": "quantitative"}}},
  {"data": {"values": [{}]}, "mark": {"type": "text", "fontStyle": "italic", "align": "right", "baseline": "middle", "fontSize": 12}, "encoding": {"x": {"datum": 2007.82}, "y": {"datum": 109.9}, "text": {"value": "pfmdr1"}}},
  {"data": {"values": [{}]}, "mark": {"type": "text", "align": "left", "baseline": "middle", "fontSize": 12}, "encoding": {"x": {"datum": 2008.07}, "y": {"datum": 109.9}, "text": {"value": "Asp1246Tyr"}}},
  {"data": {"values": [{}]}, "mark": {"type": "text", "align": "left", "baseline": "middle"}, "encoding": {"x": {"datum": 2012.53}, "y": {"datum": 98.5}, "text": {"value": "y=0·53–0·028x"}}},
  {"data": {"values": [{}]}, "mark": {"type": "text", "align": "left", "baseline": "middle"}, "encoding": {"x": {"datum": 2012.53}, "y": {"datum": 89.5}, "text": {"value": "R² 0·14, p<0·0001"}}}
 ]
},
{
 "width": 254, "height": 181,
 "layer": [
  {"data": {"name": "pts"}, "transform": [{"filter": "datum.p==5"}], "mark": {"type": "circle", "size": 120, "opacity": 0.3, "color": "#2048a8"},
   "encoding": {"x": {"field": "x", "type": "quantitative", "scale": {"domain": [2002.2, 2018.3], "nice": false, "zero": false}, "axis": {"values": [2004, 2008, 2012, 2016], "format": "d", "title": "Year"}},
                "y": {"field": "y", "type": "quantitative", "scale": {"domain": [0, 100], "nice": false}, "axis": {"values": [0, 25, 50, 75, 100], "labels": false, "title": null}}}},
  {"data": {"name": "fit"}, "transform": [{"filter": "datum.p==5"}], "mark": {"type": "area", "color": "#9fb0b8", "opacity": 0.4, "clip": true}, "encoding": {"x": {"field": "x", "type": "quantitative"}, "y": {"field": "lo", "type": "quantitative"}, "y2": {"field": "hi"}}},
  {"data": {"name": "fit"}, "transform": [{"filter": "datum.p==5"}], "mark": {"type": "line", "color": "#c0174b", "strokeWidth": 1.5}, "encoding": {"x": {"field": "x", "type": "quantitative"}, "y": {"field": "f", "type": "quantitative"}}},
  {"data": {"values": [{}]}, "mark": {"type": "text", "fontStyle": "italic", "align": "right", "baseline": "middle", "fontSize": 12}, "encoding": {"x": {"datum": 2008.58}, "y": {"datum": 109.9}, "text": {"value": "pfmdr1"}}},
  {"data": {"values": [{}]}, "mark": {"type": "text", "align": "left", "baseline": "middle", "fontSize": 12}, "encoding": {"x": {"datum": 2008.81}, "y": {"datum": 109.9}, "text": {"value": "copy number >1"}}},
  {"data": {"values": [{}]}, "mark": {"type": "text", "align": "left", "baseline": "middle"}, "encoding": {"x": {"datum": 2012.76}, "y": {"datum": 98.5}, "text": {"value": "y=0·13+0·022x"}}},
  {"data": {"values": [{}]}, "mark": {"type": "text", "align": "left", "baseline": "middle"}, "encoding": {"x": {"datum": 2012.45}, "y": {"datum": 89.5}, "text": {"value": "R² 0·13, p=0·024"}}}
 ]
}
]
}
